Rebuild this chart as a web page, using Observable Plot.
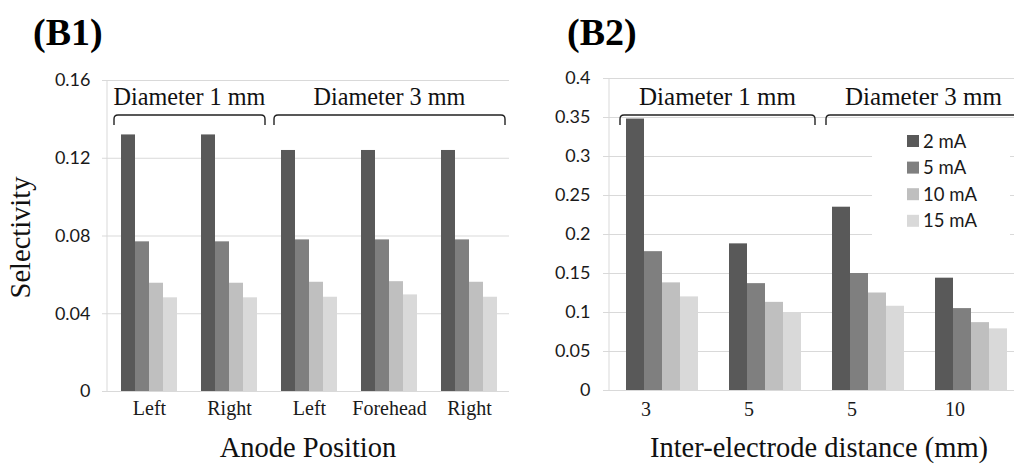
<!DOCTYPE html>
<html>
<head>
<meta charset="utf-8">
<script src="https://cdn.jsdelivr.net/npm/d3@7"></script>
<script src="https://cdn.jsdelivr.net/npm/@observablehq/plot@0.6"></script>
<style>
  html, body { margin: 0; padding: 0; background: #fff; }
  #page { position: relative; width: 1014px; height: 466px; overflow: hidden; background: #fff; }
  .panel { position: absolute; top: 0; }
</style>
</head>
<body>
<div id="page">
  <div id="b1" class="panel" style="left:0px;width:540px;"></div>
  <div id="b2" class="panel" style="left:540px;width:490px;"></div>
</div>
<script>
// ---------- data ----------
const series = ["2 mA", "5 mA", "10 mA", "15 mA"];
const colors = ["#595959", "#7f7f7f", "#bfbfbf", "#d9d9d9"];

// Panel B1
const groupsB1 = ["1mm-Left", "1mm-Right", "3mm-Left", "3mm-Forehead", "3mm-Right"];
const labelsB1 = ["Left", "Right", "Left", "Forehead", "Right"];
const b1_2mA  = [0.132, 0.132, 0.124, 0.124, 0.124];
const b1_5mA  = [0.077, 0.077, 0.078, 0.078, 0.078];
const b1_10mA = [0.0557, 0.0557, 0.0562, 0.0565, 0.0562];
const b1_15mA = [0.0482, 0.0482, 0.0485, 0.0497, 0.0485];
const yTicksB1 = [0, 0.04, 0.08, 0.12, 0.16];
const bracketsB1 = [
  {label: "Diameter 1 mm", from: "1mm-Left", to: "1mm-Right"},
  {label: "Diameter 3 mm", from: "3mm-Left", to: "3mm-Right"}
];

// Panel B2
const groupsB2 = ["1mm-3", "1mm-5", "3mm-5", "3mm-10"];
const labelsB2 = ["3", "5", "5", "10"];
const b2_2mA  = [0.348, 0.188, 0.235, 0.144];
const b2_5mA  = [0.178, 0.137, 0.150, 0.105];
const b2_10mA = [0.138, 0.113, 0.125, 0.087];
const b2_15mA = [0.120, 0.099, 0.108, 0.079];
const yTicksB2 = [0, 0.05, 0.1, 0.15, 0.2, 0.25, 0.3, 0.35, 0.4];
const bracketsB2 = [
  {label: "Diameter 1 mm", from: "1mm-3", to: "1mm-5"},
  {label: "Diameter 3 mm", from: "3mm-5", to: "3mm-10"}
];

function rows(groups, valuesBySeries) {
  return groups.flatMap((g, i) => series.map((s, j) => ({group: g, series: s, value: valuesBySeries[j][i]})));
}

const SERIF = "'Liberation Serif', 'Times New Roman', serif";
const SANS = "Lato, 'Open Sans', sans-serif";
const GRID = "#d9d9d9";

function panel(cfg) {
  const labelOf = new Map(cfg.groups.map((g, i) => [g, cfg.labels[i]]));
  const plot = Plot.plot({
    width: cfg.width,
    height: 466,
    marginLeft: cfg.mL,
    marginRight: cfg.mR,
    marginTop: cfg.mT,
    marginBottom: cfg.mB,
    style: {background: "white", overflow: "visible"},
    fx: {domain: cfg.groups, padding: 0, label: null},
    x: {domain: series, paddingInner: 0, paddingOuter: cfg.po, axis: null},
    y: {domain: [0, cfg.yTicks[cfg.yTicks.length - 1]], label: null},
    color: {domain: series, range: colors},
    marks: [
      Plot.gridY(cfg.yTicks, {stroke: GRID, strokeOpacity: 1, strokeWidth: 1}),
      Plot.barY(cfg.data, {fx: "group", x: "series", y: "value", fill: "series"}),
      Plot.axisY(cfg.yTicks, {
        tickSize: 7, tickPadding: cfg.yPad, stroke: GRID, strokeOpacity: 1,
        fill: "#1a1a1a", fontSize: 18, fontFamily: SANS, tickFormat: d => String(d), label: null
      }),
      Plot.axisFx({
        anchor: "bottom", tickSize: 0, tickPadding: cfg.xPad, dx: cfg.xdx,
        tickFormat: k => labelOf.get(k), fontSize: 20, fontFamily: SERIF, fill: "#1a1a1a", label: null
      })
    ]
  });

  const svg = d3.select(plot);
  const fx = plot.scale("fx");
  const y = plot.scale("y");
  const y0 = y.apply(0);
  const yTop = y.apply(cfg.yTicks[cfg.yTicks.length - 1]);
  const left = fx.range[0];

  // vertical axis line
  svg.append("line")
    .attr("x1", left).attr("x2", left).attr("y1", y0).attr("y2", yTop)
    .attr("stroke", GRID).attr("stroke-width", 1);

  // brackets
  const bw = fx.bandwidth;
  const top = cfg.mT + cfg.brTop;
  const bot = top + 10;
  const r = 4;
  cfg.brackets.forEach(b => {
    const x1 = fx.apply(b.from) + cfg.inL;
    const x2 = fx.apply(b.to) + bw - cfg.inR;
    svg.append("path")
      .attr("d", `M${x1},${bot} L${x1},${top + r} Q${x1},${top} ${x1 + r},${top} L${x2 - r},${top} Q${x2},${top} ${x2},${top + r} L${x2},${bot}`)
      .attr("fill", "none").attr("stroke", "#222").attr("stroke-width", 1.4);
    svg.append("text")
      .attr("x", (x1 + x2) / 2).attr("y", cfg.mT + cfg.brLabel)
      .attr("text-anchor", "middle")
      .attr("font-family", SERIF).attr("font-size", cfg.brFont).attr("fill", "#111")
      .text(b.label);
  });

  // panel title
  svg.append("text")
    .attr("x", cfg.titleX).attr("y", 45)
    .attr("text-anchor", "start")
    .attr("font-family", SERIF).attr("font-weight", "bold").attr("font-size", 38).attr("fill", "#000")
    .text(cfg.title);

  // x axis title
  svg.append("text")
    .attr("x", (fx.range[0] + fx.range[1]) / 2 + cfg.xTitleDx).attr("y", 457)
    .attr("text-anchor", "middle")
    .attr("font-family", SERIF).attr("font-size", 28.5).attr("fill", "#111")
    .text(cfg.xTitle);

  if (cfg.yTitle) {
    svg.append("text")
      .attr("transform", `translate(30,${(y0 + yTop) / 2 + 2}) rotate(-90)`)
      .attr("text-anchor", "middle")
      .attr("font-family", SERIF).attr("font-size", 28.5).attr("fill", "#111")
      .text(cfg.yTitle);
  }

  if (cfg.legend) {
    const L = cfg.legend;
    svg.append("rect").attr("x", L.x).attr("y", L.y).attr("width", L.w).attr("height", L.h).attr("fill", "white");
    series.forEach((s, i) => {
      const cy = L.y0 + i * L.step;
      svg.append("rect").attr("x", L.sx).attr("y", cy - 6).attr("width", 12).attr("height", 12).attr("fill", colors[i]);
      svg.append("text").attr("x", L.sx + 16).attr("y", cy).attr("dy", "0.36em")
        .attr("text-anchor", "start")
        .attr("font-family", SANS).attr("font-size", 18.5).attr("fill", "#1a1a1a").text(s);
    });
  }
  return plot;
}

document.getElementById("b1").append(panel({
  title: "(B1)", titleX: 33,
  width: 540, mL: 107, mR: 29, mT: 80, mB: 75,
  po: 0.786, yPad: 12, xPad: 9, xdx: 0,
  groups: groupsB1, labels: labelsB1, yTicks: yTicksB1,
  data: rows(groupsB1, [b1_2mA, b1_5mA, b1_10mA, b1_15mA]),
  brackets: bracketsB1, brTop: 35, brLabel: 25, brFont: 24.2, inL: 5, inR: 4,
  xTitle: "Anode Position", xTitleDx: -1, yTitle: "Selectivity"
}));

document.getElementById("b2").append(panel({
  title: "(B2)", titleX: 27,
  width: 490, mL: 69, mR: 7.5, mT: 78, mB: 76,
  po: 0.762, yPad: 13, xPad: 11, xdx: -16,
  groups: groupsB2, labels: labelsB2, yTicks: yTicksB2,
  data: rows(groupsB2, [b2_2mA, b2_5mA, b2_10mA, b2_15mA]),
  brackets: bracketsB2, brTop: 37, brLabel: 27, brFont: 25, inL: 10, inR: 1,
  xTitle: "Inter-electrode distance (mm)", xTitleDx: -(69 + (490 - 7.5 - 69) / 2) + 279, yTitle: null,
  legend: {x: 332, y: 125, w: 138, h: 111, sx: 367, y0: 141, step: 26.6}
}));
</script>
</body>
</html>
